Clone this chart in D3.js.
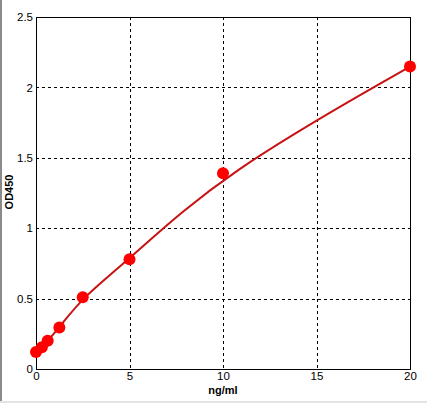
<!DOCTYPE html>
<html>
<head>
<meta charset="utf-8">
<script src="https://cdn.jsdelivr.net/npm/d3@7"></script>
<style>
  body { margin: 0; background: #fff; }
  svg { display: block; font-family: Arial, "Liberation Sans", sans-serif; }
</style>
</head>
<body>
<svg id="chart"></svg>
<script>
// standard concentrations (ng/ml) and measured OD450
const conc = [0, 0.312, 0.625, 1.25, 2.5, 5, 10, 20];
const od = [0.12, 0.155, 0.2, 0.295, 0.51, 0.78, 1.39, 2.148];
const xTicks = [0, 5, 10, 15, 20];
const yTicks = [0, 0.5, 1, 1.5, 2, 2.5];

const W = 427, H = 403;
const margin = { top: 17, right: 17, bottom: 34, left: 36 };
const width = W - margin.left - margin.right;
const height = H - margin.top - margin.bottom;
const font = "Arial, 'Liberation Sans', sans-serif";

const svg = d3.select("#chart").attr("width", W).attr("height", H);

// window frame (left and bottom edges)
svg.append("rect").attr("x", 0).attr("y", 0).attr("width", 2).attr("height", H).attr("fill", "#8a8a8a");
svg.append("rect").attr("x", 0).attr("y", H - 2).attr("width", W).attr("height", 2).attr("fill", "#e4e4e4");

const g = svg.append("g").attr("transform", `translate(${margin.left},${margin.top})`);

const x = d3.scaleLinear().domain([0, 20]).range([0, width]);
const y = d3.scaleLinear().domain([0, 2.5]).range([height, 0]);

// grid
g.selectAll(".vgrid")
  .data(xTicks.slice(1, -1))
  .enter().append("line")
  .attr("x1", d => Math.round(x(d)) + 0.5).attr("x2", d => Math.round(x(d)) + 0.5)
  .attr("y1", 0).attr("y2", height)
  .attr("stroke", "#000").attr("stroke-dasharray", "3,3");

g.selectAll(".hgrid")
  .data(yTicks.slice(1, -1))
  .enter().append("line")
  .attr("y1", d => Math.round(y(d)) + 0.5).attr("y2", d => Math.round(y(d)) + 0.5)
  .attr("x1", 0).attr("x2", width)
  .attr("stroke", "#000").attr("stroke-dasharray", "3,3");

// plot border
g.append("rect")
  .attr("x", 0.5).attr("y", 0.5)
  .attr("width", width).attr("height", height)
  .attr("fill", "none").attr("stroke", "#000");

// axes (labels only, no tick marks)
const xAxis = g.append("g")
  .attr("transform", `translate(0,${height})`)
  .call(d3.axisBottom(x).tickValues(xTicks).tickSize(0).tickPadding(3).tickFormat(d3.format("")));
xAxis.select(".domain").remove();
xAxis.selectAll("text").attr("font-size", 11.5).attr("fill", "#000").attr("font-family", font);

const yAxis = g.append("g")
  .call(d3.axisLeft(y).tickValues(yTicks).tickSize(0).tickPadding(3).tickFormat(d3.format("")));
yAxis.select(".domain").remove();
yAxis.selectAll("text").attr("font-size", 11.5).attr("fill", "#000").attr("font-family", font);

// smoothed standard curve
const line = d3.line()
  .x((d, i) => x(conc[i]))
  .y(d => y(d))
  .curve(d3.curveBasis);

g.append("path")
  .datum(od)
  .attr("d", line)
  .attr("fill", "none")
  .attr("stroke", "#c81212")
  .attr("stroke-width", 2);

// points
g.selectAll(".pt")
  .data(od)
  .enter().append("circle")
  .attr("cx", (d, i) => x(conc[i]))
  .attr("cy", d => y(d))
  .attr("r", 6)
  .attr("fill", "#ff0000");

// axis titles
svg.append("text")
  .attr("x", margin.left + width / 2)
  .attr("y", 394)
  .attr("text-anchor", "middle")
  .attr("font-size", 11).attr("font-weight", "bold")
  .text("ng/ml");

svg.append("text")
  .attr("transform", `translate(13,${margin.top + height / 2 - 1}) rotate(-90)`)
  .attr("text-anchor", "middle")
  .attr("font-size", 11).attr("font-weight", "bold")
  .text("OD450");
</script>
</body>
</html>
